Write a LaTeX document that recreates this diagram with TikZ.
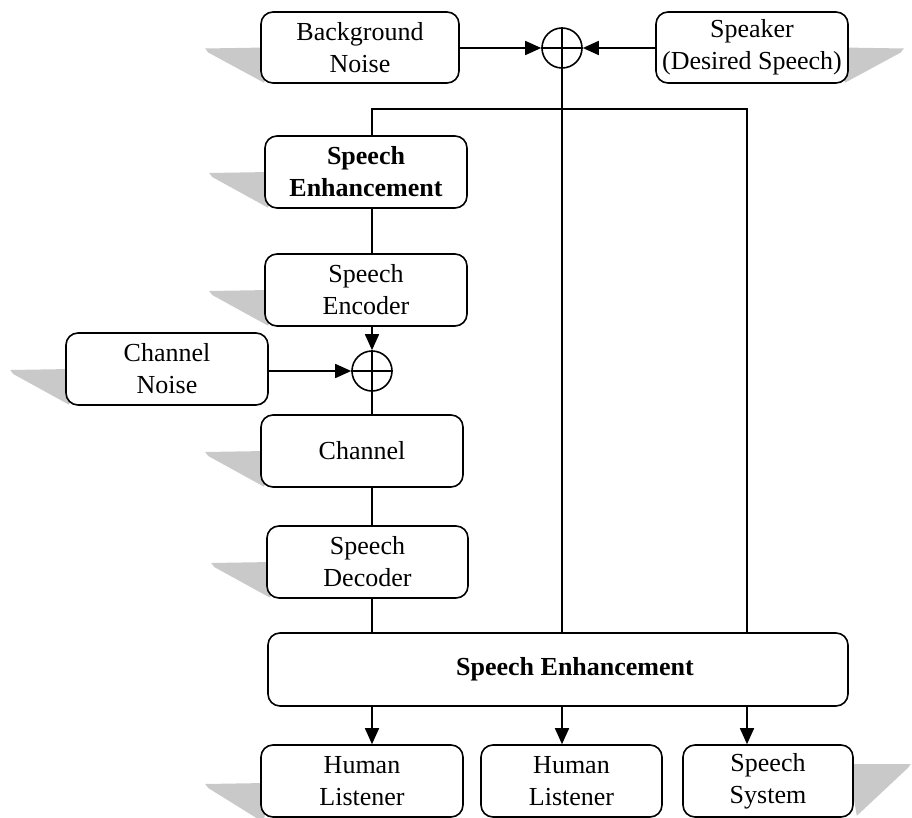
\documentclass[tikz,border=0pt]{standalone}
\usepackage{fontspec}
\setmainfont{Liberation Serif}
\usetikzlibrary{arrows.meta,backgrounds,calc}
\begin{document}
\begin{tikzpicture}[x=1pt,y=-1pt,
  txt/.style={font=\fontsize{26}{32}\selectfont},
  box/.style={txt, draw, line width=1.6pt, rounded corners=12pt, fill=white, align=center, inner sep=0pt},
  sumnode/.style={draw, circle, line width=1.6pt, minimum size=40pt, inner sep=0pt, fill=white},
  wire/.style={line width=1.6pt},
  arr/.style={wire, -{Triangle[length=16pt,width=14pt]}},
  shade/.style={fill=gray!42, draw=none},
]
\useasboundingbox (0,0) rectangle (912,818);

% boxes
\node[box, minimum width=198pt, minimum height=71pt] (BN) at (360,47.5) {Background\\Noise};
\node[box, minimum width=192pt, minimum height=71pt] (SP) at (752,47.5) {Speaker\\(Desired Speech)};
\node[sumnode] (S1) at (562,48) {};
\node[box, minimum width=202pt, minimum height=72pt, font=\fontsize{26}{32}\selectfont\bfseries] (SE1) at (366,172) {Speech\\Enhancement};
\node[box, minimum width=202pt, minimum height=72pt] (SEnc) at (366,290) {Speech\\Encoder};
\node[box, minimum width=202pt, minimum height=72pt] (CN) at (167,369) {Channel\\Noise};
\node[sumnode] (S2) at (372,371) {};
\node[box, minimum width=202pt, minimum height=72pt] (CH) at (362,451) {Channel};
\node[box, minimum width=201pt, minimum height=72pt] (SD) at (367.5,562) {Speech\\Decoder};
\node[box, minimum width=580pt, minimum height=73pt, font=\fontsize{26}{32}\selectfont\bfseries] (Big) at (558,669.5) {\hspace*{34pt}Speech Enhancement};
\node[box, minimum width=202pt, minimum height=72pt] (HL1) at (362,781) {Human\\Listener};
\node[box, minimum width=181pt, minimum height=72pt] (HL2) at (571.5,781) {Human\\Listener};
\node[box, minimum width=170pt, minimum height=72pt] (SS) at (768,781) {Speech\\System};
\coordinate (busR) at (747,109);

% shadows
\begin{scope}[on background layer]
\foreach \n in {BN,SE1,SEnc,CN,CH,SD} {
  \fill[shade] ($(\n.west)+(6,0)$) -- ($(\n.west)+(-55,1)$) -- ($(\n.west)+(-52,5)$) -- ($(\n.south west)+(4,-1)$) -- cycle;
}
\fill[shade] ($(HL1.west)+(6,2)$) -- ($(HL1.west)+(-55,3)$) -- ($(HL1.west)+(-52,7)$) -- ($(HL1.south west)+(4,5)$) -- cycle;
\fill[shade] ($(SP.east)+(-6,0)$) -- ($(SP.east)+(55,1)$) -- ($(SP.east)+(52,5)$) -- ($(SP.south east)+(-4,-1)$) -- cycle;
\fill[shade] ($(SS.east)+(-6,-17)$) -- ($(SS.east)+(57,-17)$) -- ($(SS.east)+(54,-13)$) -- ($(SS.south east)+(3,-2)$) -- cycle;
\end{scope}

% sum symbols
\draw[wire] (S1.north) -- (S1.south) (S1.west) -- (S1.east);
\draw[wire] (S2.north) -- (S2.south) (S2.west) -- (S2.east);

% connectors
\draw[arr] (BN.east |- S1) -- (S1.west);
\draw[arr] (SP.west |- S1) -- (S1.east);
\draw[wire] (S1.south) -- (S1.south |- Big.north);
\draw[wire] (SE1.north -| S2) |- (busR) -- (busR |- Big.north);
\draw[wire] (SE1.south -| S2) -- (SEnc.north -| S2);
\draw[arr] (SEnc.south -| S2) -- (S2.north);
\draw[arr] (CN.east |- S2) -- (S2.west);
\draw[wire] (S2.south) -- (CH.north -| S2);
\draw[wire] (CH.south -| S2) -- (SD.north -| S2);
\draw[wire] (SD.south -| S2) -- (Big.north -| S2);
\draw[arr] (Big.south -| S2) -- (HL1.north -| S2);
\draw[arr] (Big.south -| S1) -- (HL2.north -| S1);
\draw[arr] (Big.south -| busR) -- (SS.north -| busR);
\end{tikzpicture}
\end{document}
